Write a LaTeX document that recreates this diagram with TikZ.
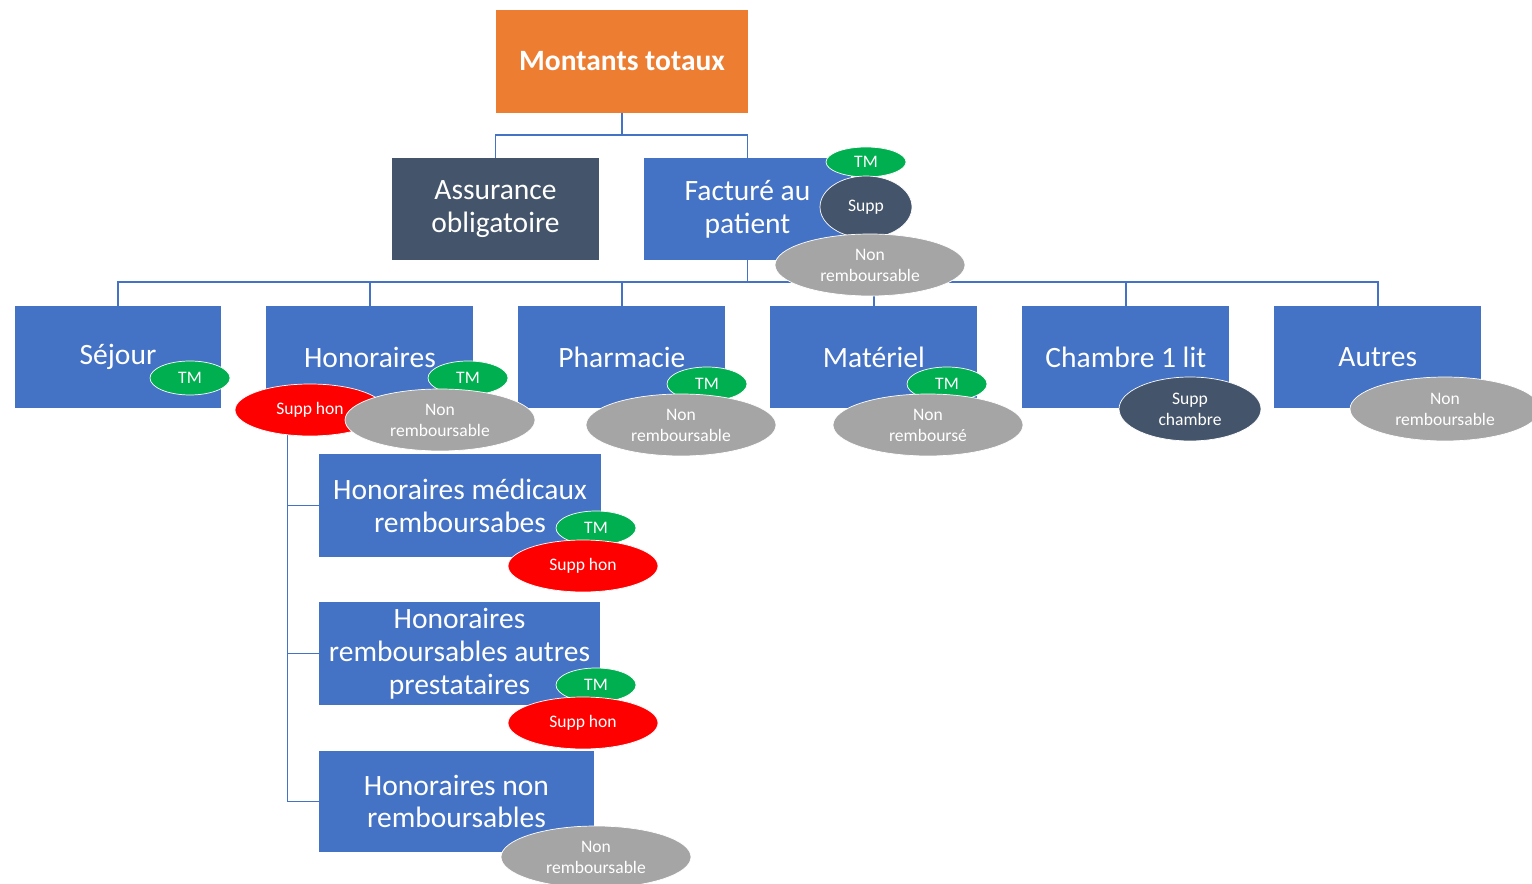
\documentclass[tikz,border=0pt]{standalone}
\usepackage{fontspec}
\setmainfont{Carlito}
\usetikzlibrary{positioning,shapes.geometric}
\definecolor{boxblue}{HTML}{4472C4}
\definecolor{boxorange}{HTML}{ED7D31}
\definecolor{boxslate}{HTML}{44546A}
\definecolor{tmgreen}{HTML}{00B050}
\definecolor{supred}{HTML}{FF0000}
\definecolor{nrgray}{HTML}{A5A5A5}
\begin{document}
\begin{tikzpicture}[x=0.02cm,y=-0.02cm,
  box/.style={rectangle,fill=boxblue,text=white,align=center,inner sep=2pt,outer sep=0pt,minimum width=4.14cm,minimum height=2.04cm,font=\fontsize{16.8}{18.7}\selectfont},
  conn/.style={draw=boxblue,line width=0.9pt},
  tag/.style={ellipse,draw=white,line width=0.4pt,inner sep=0pt,text=white,align=center,font=\fontsize{10}{12}\selectfont}]
\tikzstyle{tm}=[tag,fill=tmgreen,minimum width=1.6cm,minimum height=0.68cm]
\tikzstyle{supphon}=[tag,fill=supred,minimum width=3cm,minimum height=1.04cm]
\tikzstyle{nonremb}=[tag,fill=nrgray,minimum width=3.8cm,minimum height=1.24cm]
\tikzstyle{suppdark}=[tag,fill=boxslate]
%
\useasboundingbox (0,0) rectangle (1532,884);
%
\node[box,fill=boxorange,minimum width=5.04cm,minimum height=2.06cm,font=\fontsize{16.8}{18.7}\selectfont\bfseries] (total) at (622,61.5) {Montants totaux};
\node[box,fill=boxslate] (assur) at (495.5,209) {Assurance\\obligatoire};
\node[box] (fact) at (747.5,209) {Factur\'e au\\patient};
%
\node[box] (sejour) at (118,357) {S\'ejour};
\node[box] (honor) [right=0.9cm of sejour] {Honoraires};
\node[box] (pharma) [right=0.9cm of honor] {Pharmacie};
\node[box] (mater) [right=0.9cm of pharma] {Mat\'eriel};
\node[box] (chambre) [right=0.9cm of mater] {Chambre 1 lit};
\node[box] (autres) [right=0.9cm of chambre] {Autres};
%
\node[box,minimum width=5.64cm,minimum height=2.06cm] (hmr) at (460,505.5) {Honoraires m\'edicaux\\remboursabes};
\node[box,minimum width=5.62cm,minimum height=2.06cm] (hrap) at (459.5,653.5) {Honoraires\\remboursables autres\\prestataires};
\node[box,minimum width=5.5cm,minimum height=2.02cm] (hnr) at (456.5,801.5) {Honoraires non\\remboursables};
%
\draw[conn] (total.south) -- ++(0,22) -| (assur.north);
\draw[conn] (total.south) -- ++(0,22) -| (fact.north);
\foreach \n in {sejour,honor,pharma,mater,chambre,autres}
  \draw[conn] (fact.south) -- ++(0,22) -| (\n.north);
\coordinate (hbranch) at ([xshift=0.42cm]honor.south west);
\foreach \n in {hmr,hrap,hnr}
  \draw[conn] (hbranch) |- (\n.west);
%
\node[tm,minimum height=0.6cm] (tmfact) at (866,162) {TM};
\node[suppdark,minimum width=1.84cm,minimum height=1.24cm] (suppfact) at (866,207) {Supp};
\node[nonremb] (nrfact) at (870,265) {Non\\remboursable};
%
\node[tm] (tmsejour) at (190,378) {TM};
\node[tm] (tmhonor) at (468,378) {TM};
\node[supphon] (shhonor) at (310,410) {Supp hon};
\node[nonremb] (nrhonor) at (440,420) {Non\\remboursable};
\node[tm] (tmpharma) at (707,384) {TM};
\node[nonremb] (nrpharma) at (681,425) {Non\\remboursable};
\node[tm] (tmmater) at (947,384) {TM};
\node[nonremb] (nrmater) at (928,425) {Non\\rembours\'e};
\node[suppdark,minimum width=2.84cm,minimum height=1.28cm] (spchambre) at (1190,409) {Supp\\chambre};
\node[nonremb,minimum height=1.28cm] (nrautres) at (1445,409) {Non\\remboursable};
%
\node[tm] (tmhmr) at (596,528) {TM};
\node[supphon] (shhmr) at (583,566) {Supp hon};
\node[tm] (tmhrap) at (596,685) {TM};
\node[supphon] (shhrap) at (583,723) {Supp hon};
\node[nonremb] (nrhnr) at (596,857) {Non\\remboursable};
\end{tikzpicture}
\end{document}
